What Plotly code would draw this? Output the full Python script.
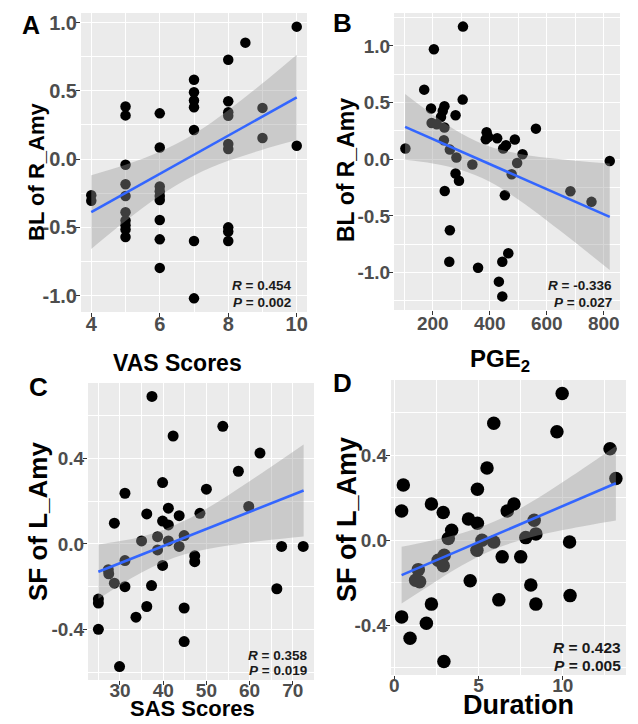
import plotly.graph_objects as go

W, H = 638, 724

# ---------------- data ----------------
# Panel A: VAS Scores vs BL of R_Amy
a_x = [4, 4] + [5] * 10 + [6] * 9 + [7] * 7 + [8] * 9 + [8.5, 9, 9, 10, 10]
a_y = [-0.265, -0.305,
       0.385, 0.32, -0.042, -0.184, -0.27, -0.39, -0.45, -0.485, -0.515, -0.571,
       0.335, 0.085, -0.2, -0.235, -0.27, -0.30, -0.446, -0.588, -0.797,
       0.581, 0.49, 0.429, 0.38, 0.213, -0.60, -1.02,
       0.728, 0.424, 0.343, 0.318, 0.11, 0.074, -0.50, -0.53, -0.60,
       0.853, 0.375, 0.154, 0.97, 0.098]
a_fit_x = [4, 5, 6, 7, 8, 9, 10]
a_fit_y = [-0.388, -0.248, -0.108, 0.032, 0.172, 0.312, 0.452]
a_lo = [-0.658, -0.454, -0.269, -0.12, -0.013, 0.069, 0.139]
a_hi = [-0.118, -0.042, 0.053, 0.183, 0.357, 0.555, 0.765]

# Panel B: PGE2 vs BL of R_Amy
b_x = [306, 204, 170, 305, 194, 241, 235, 229, 280, 196, 214, 241, 562, 389, 395,
       426, 386, 488, 239, 457, 447, 515, 104, 260, 821, 283, 496, 339, 477, 280,
       292, 242, 453, 683, 757, 260, 258, 359, 444, 465, 432, 444]
b_y = [1.17, 0.97, 0.614, 0.526, 0.447, 0.467, 0.426, 0.373, 0.388, 0.32, 0.308, 0.28, 0.27, 0.238, 0.196,
       0.185, 0.176, 0.174, 0.167, 0.123, 0.095, 0.044, 0.094, 0.085, -0.015, 0.015, -0.033, -0.047, -0.132, -0.126,
       -0.19, -0.28, -0.317, -0.282, -0.376, -0.626, -0.905, -0.957, -0.905, -0.83, -1.08, -1.21]
b_fit_x = [103, 200, 300, 400, 500, 600, 700, 821]
b_fit_y = [0.285, 0.178, 0.067, -0.043, -0.153, -0.264, -0.374, -0.508]
b_lo = [-0.005, -0.037, -0.094, -0.198, -0.355, -0.54, -0.735, -0.978]
b_hi = [0.575, 0.393, 0.228, 0.112, 0.049, 0.012, -0.013, -0.038]

# Panel C: SAS Scores vs SF of L_Amy
c_x = [37.4, 53.8, 42.3, 62.4, 57.4, 31.15, 39.86, 50.0, 59.8, 41.2, 36.2, 43.7, 48.5, 28.7,
       39.86, 41.2, 35.0, 38.7, 41.2, 44.85, 43.7, 38.7, 47.3, 47.3, 67.4, 72.4, 31.15, 39.86,
       27.3, 27.4, 28.7, 31.15, 37.3, 66.3, 25.0, 25.0, 36.2, 44.85, 33.7, 25.0, 44.85, 29.9]
c_y = [0.69, 0.55, 0.505, 0.425, 0.34, 0.237, 0.287, 0.256, 0.175, 0.167, 0.14, 0.132, 0.143, 0.097,
       0.107, 0.089, 0.014, 0.034, 0.014, 0.039, -0.012, -0.028, -0.056, -0.083, -0.012, -0.012, -0.078, -0.101,
       -0.121, -0.14, -0.184, -0.2, -0.195, -0.21, -0.258, -0.277, -0.293, -0.30, -0.343, -0.40, -0.457, -0.574]
c_fit_x = [25, 30, 35, 40, 45, 50, 55, 60, 65, 72.5]
c_fit_y = [-0.13, -0.09, -0.05, -0.01, 0.03, 0.07, 0.11, 0.15, 0.19, 0.25]
c_lo = [-0.257, -0.193, -0.134, -0.085, -0.049, -0.025, -0.007, 0.007, 0.019, 0.035]
c_hi = [-0.003, 0.013, 0.034, 0.065, 0.109, 0.165, 0.227, 0.293, 0.361, 0.465]

# Panel D: Duration vs SF of L_Amy
d_x = [9.96, 5.9, 9.65, 12.8, 5.5, 13.15, 0.53, 4.93, 0.43, 2.2, 2.9, 6.7, 7.1, 4.4, 4.93, 3.4,
       3.2, 8.3, 8.4, 7.8, 5.2, 5.9, 4.9, 10.4, 2.96, 2.6, 2.9, 6.4, 7.5, 1.42, 1.26, 1.5, 4.5,
       8.1, 10.43, 6.2, 2.2, 8.4, 0.43, 1.9, 0.93, 2.94]
d_y = [0.69, 0.55, 0.51, 0.43, 0.34, 0.29, 0.26, 0.24, 0.138, 0.17, 0.13, 0.138, 0.17, 0.10, 0.08, 0.047,
       0.008, 0.094, 0.03, 0.0125, 0.0, -0.008, -0.047, -0.008, -0.07, -0.094, -0.12, -0.078, -0.078, -0.138, -0.1875, -0.195, -0.19,
       -0.21, -0.26, -0.28, -0.30, -0.30, -0.36, -0.39, -0.46, -0.57]
d_fit_x = [0.43, 2, 4, 6, 8, 10, 12, 13.15]
d_fit_y = [-0.164, -0.111, -0.043, 0.025, 0.093, 0.161, 0.229, 0.268]
d_lo = [-0.297, -0.217, -0.119, -0.04, 0.012, 0.048, 0.078, 0.093]
d_hi = [-0.031, -0.005, 0.033, 0.09, 0.174, 0.274, 0.38, 0.443]

stats = {"A": ("0.454", "0.002"), "B": ("-0.336", "0.027"),
         "C": ("0.358", "0.019"), "D": ("0.423", "0.005")}

# ---------------- layout helpers ----------------
def px(x):
    return x / W

def py(y):
    return 1 - y / H

FONT = "Liberation Sans, Arial, sans-serif"
TICKCOL = "#4D4D4D"

panels = [
    dict(key="A", x=a_x, y=a_y, fx=a_fit_x, fy=a_fit_y, lo=a_lo, hi=a_hi,
         box=(81, 13, 307, 312), xr=[3.7, 10.3], yr=[-1.12, 1.07],
         xt=[4, 6, 8, 10], xtl=["4", "6", "8", "10"], xm=[5, 7, 9],
         yt=[-1.0, -0.5, 0.0, 0.5, 1.0], ytl=["-1.0", "-0.5", "0.0", "0.5", "1.0"],
         ym=[-0.75, -0.25, 0.25, 0.75], ms=10.5, tf=20, xso=-10),
    dict(key="B", x=b_x, y=b_y, fx=b_fit_x, fy=b_fit_y, lo=b_lo, hi=b_hi,
         box=(394, 13, 620, 310), xr=[64, 857], yr=[-1.33, 1.29],
         xt=[200, 400, 600, 800], xtl=["200", "400", "600", "800"], xm=[100, 300, 500, 700],
         yt=[-1.0, -0.5, 0.0, 0.5, 1.0], ytl=["-1.0", "-0.5", "0.0", "0.5", "1.0"],
         ym=[-1.25, -0.75, -0.25, 0.25, 0.75, 1.25], ms=10.5, tf=19, xso=-8),
    dict(key="C", x=c_x, y=c_y, fx=c_fit_x, fy=c_fit_y, lo=c_lo, hi=c_hi,
         box=(88, 383, 314, 680), xr=[22.6, 74.9], yr=[-0.637, 0.753],
         xt=[30, 40, 50, 60, 70], xtl=["30", "40", "50", "60", "70"], xm=[25, 35, 45, 55, 65],
         yt=[-0.4, 0.0, 0.4], ytl=["-0.4", "0.0", "0.4"], ym=[-0.6, -0.2, 0.2, 0.6], ms=11, tf=19, xso=-11),
    dict(key="D", x=d_x, y=d_y, fx=d_fit_x, fy=d_fit_y, lo=d_lo, hi=d_hi,
         box=(391, 380, 626, 675), xr=[-0.2, 13.75], yr=[-0.633, 0.753],
         xt=[0, 5, 10], xtl=["0", "5", "10"], xm=[2.5, 7.5, 12.5],
         yt=[-0.4, 0.0, 0.4], ytl=["-0.4", "0.0", "0.4"], ym=[-0.6, -0.2, 0.2, 0.6], ms=13.5, tf=19, xso=-11),
]

fig = go.Figure()
layout = dict(width=W, height=H, margin=dict(l=0, r=0, t=0, b=0, pad=0), autosize=False,
              paper_bgcolor="white", plot_bgcolor="#EBEBEB", showlegend=False,
              font=dict(family=FONT, color="black"))
annotations = []

for i, p in enumerate(panels):
    n = "" if i == 0 else str(i + 1)
    xa, ya = "x" + n, "y" + n
    l, t, r, b = p["box"]
    common = dict(showline=False, zeroline=False, ticks="outside", ticklen=4, tickwidth=1.1,
                  tickcolor="#333333", gridcolor="white", gridwidth=1.3,
                  tickfont=dict(family=FONT, size=p["tf"], color=TICKCOL, weight="bold"),
                  fixedrange=True, automargin=False)
    layout["xaxis" + n] = dict(domain=[px(l), px(r)], anchor=ya, range=p["xr"],
                               tickmode="array", tickvals=p["xt"], ticktext=p["xtl"],
                               ticklabelstandoff=p["xso"],
                               minor=dict(tickmode="array", tickvals=p["xm"], showgrid=True,
                                          gridcolor="white", gridwidth=0.6, ticks=""),
                               **common)
    layout["yaxis" + n] = dict(domain=[py(b), py(t)], anchor=xa, range=p["yr"],
                               tickmode="array", tickvals=p["yt"], ticktext=p["ytl"],
                               ticklabelstandoff=-5,
                               minor=dict(tickmode="array", tickvals=p["ym"], showgrid=True,
                                          gridcolor="white", gridwidth=0.6, ticks=""),
                               **common)
    fig.add_trace(go.Scatter(x=p["x"], y=p["y"], mode="markers", xaxis=xa, yaxis=ya,
                             marker=dict(color="black", size=p["ms"], line=dict(width=0)),
                             hoverinfo="skip"))
    fig.add_trace(go.Scatter(x=p["fx"], y=p["lo"], mode="lines", xaxis=xa, yaxis=ya,
                             line=dict(width=0, shape="spline"), hoverinfo="skip"))
    fig.add_trace(go.Scatter(x=p["fx"], y=p["hi"], mode="lines", xaxis=xa, yaxis=ya,
                             line=dict(width=0, shape="spline"), fill="tonexty",
                             fillcolor="rgba(153,153,153,0.4)", hoverinfo="skip"))
    fig.add_trace(go.Scatter(x=p["fx"], y=p["fy"], mode="lines", xaxis=xa, yaxis=ya,
                             line=dict(color="#3366FF", width=2.6), hoverinfo="skip"))

stat_pos = {"A": (293, 286, 303, 13.5), "B": (614, 286, 302, 13.5),
            "C": (309, 655, 670, 13.5), "D": (623, 647, 665, 15.5)}
for k, (rv, pv) in stats.items():
    xr_, y1, y2, fs = stat_pos[k]
    annotations.append(dict(text="<b><i>R</i> = " + rv + "</b>", x=px(xr_), y=py(y1),
                            xref="paper", yref="paper", xanchor="right", yanchor="middle",
                            showarrow=False, font=dict(size=fs, color="#1a1a1a", family=FONT)))
    annotations.append(dict(text="<b><i>P</i> = " + pv + "</b>", x=px(xr_), y=py(y2),
                            xref="paper", yref="paper", xanchor="right", yanchor="middle",
                            showarrow=False, font=dict(size=fs, color="#1a1a1a", family=FONT)))

for txt, x, y, fs in [("A", 31, 25, 25), ("B", 342, 23, 26), ("C", 38, 387, 26), ("D", 342, 383, 26)]:
    annotations.append(dict(text="<b>" + txt + "</b>", x=px(x), y=py(y), xref="paper", yref="paper",
                            xanchor="center", yanchor="middle", showarrow=False,
                            font=dict(size=fs, color="black", family=FONT)))

titles = [
    ("BL of R_Amy", 37, 172, 22, -90),
    ("BL of R_Amy", 346, 170, 23, -90),
    ("SF of L_Amy", 38, 522, 26, -90),
    ("SF of L_Amy", 347, 520, 27, -90),
    ("VAS Scores", 177, 363, 23, 0),
    ("PGE<sub>2</sub>", 500, 360, 24, 0),
    ("SAS Scores", 192, 708, 22, 0),
    ("Duration", 518, 705, 27, 0),
]
for txt, x, y, fs, ang in titles:
    annotations.append(dict(text="<b>" + txt + "</b>", x=px(x), y=py(y), xref="paper", yref="paper",
                            xanchor="center", yanchor="middle", showarrow=False, textangle=ang,
                            font=dict(size=fs, color="black", family=FONT)))

layout["annotations"] = annotations
fig.update_layout(**layout)
fig.write_html("out.html", config={"displayModeBar": False},
               post_script="document.body.style.margin='0px';document.body.style.overflow='hidden';")
